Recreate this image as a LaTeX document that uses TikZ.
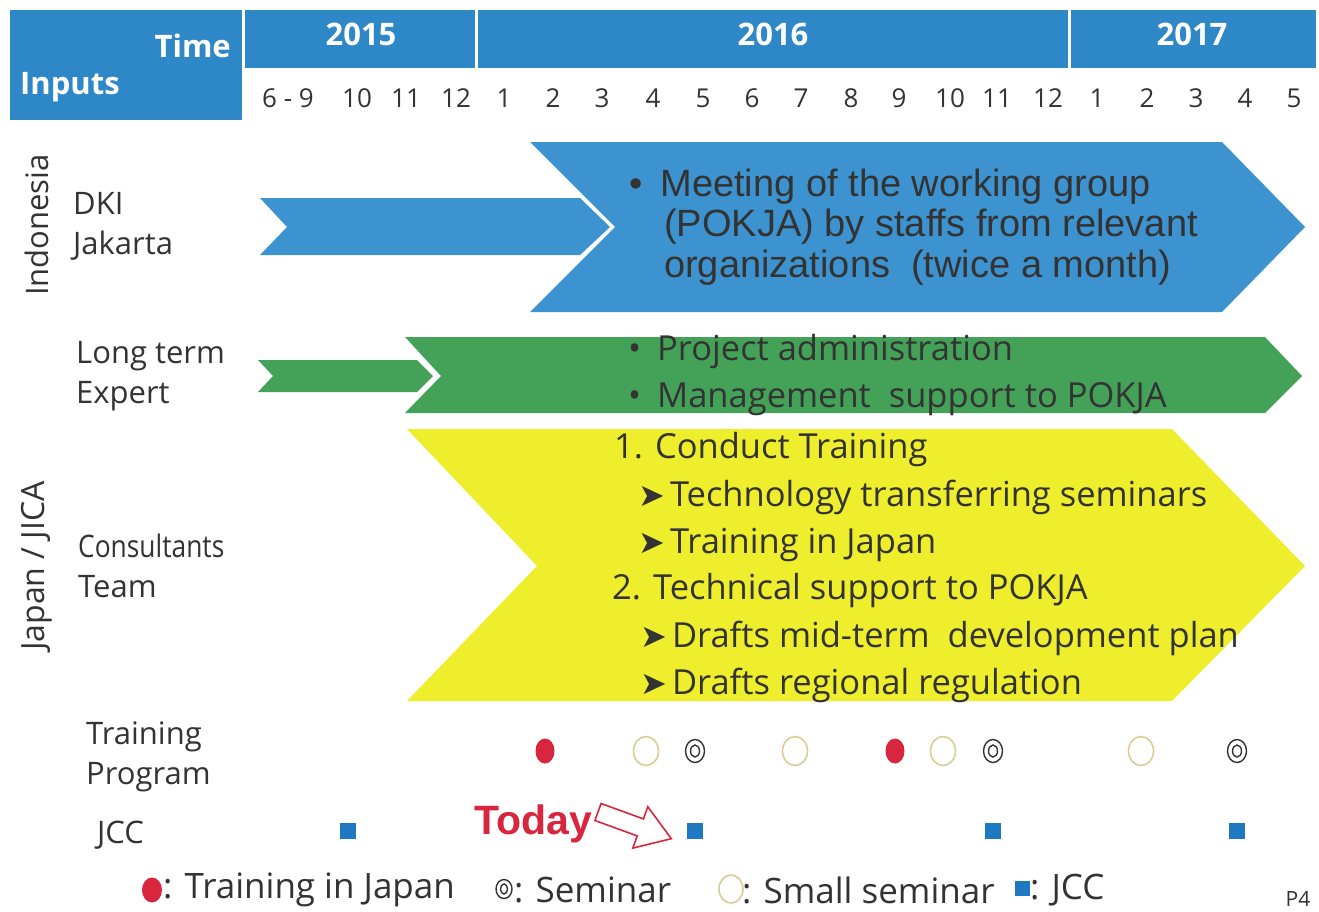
\documentclass[tikz,border=0pt]{standalone}
\usepackage{fontspec}
\usetikzlibrary{shapes.geometric}
\setmainfont{Open Sans}
\newfontfamily\djv{DejaVu Sans}
\newfontfamily\libsans{Liberation Sans}
\definecolor{hdr}{HTML}{2E87C7}
\definecolor{blueC}{HTML}{3D93CF}
\definecolor{greenC}{HTML}{43A258}
\definecolor{yellowC}{HTML}{EEEE2C}
\definecolor{txt}{HTML}{333333}
\definecolor{redC}{HTML}{D7263D}
\definecolor{beige}{HTML}{D9CC95}
\definecolor{jcc}{HTML}{1E78C2}
\begin{document}
\begin{tikzpicture}[x=1pt,y=-1pt,
  hdrtxt/.style={text=white,font=\bfseries\fontsize{31}{34}\selectfont,inner sep=0},
  month/.style={text=txt,font=\fontsize{26}{30}\selectfont,inner sep=0},
  lbl/.style={text=txt,font=\fontsize{31}{40}\selectfont,align=left,anchor=west,inner sep=0},
  body/.style={text=txt,font=\fontsize{34.5}{40}\selectfont,anchor=west,inner sep=0},
  bluebody/.style={text=txt,font=\libsans\fontsize{38}{40}\selectfont,anchor=west,inner sep=0},
  legtxt/.style={text=txt,font=\fontsize{35}{38}\selectfont,anchor=west,inner sep=0},
  redot/.style={ellipse,fill=redC,minimum width=19pt,minimum height=25pt,inner sep=0},
  small/.style={ellipse,draw=beige,line width=1.6pt,minimum width=25pt,minimum height=29pt,inner sep=0},
  semi/.style={ellipse,draw=txt,line width=1.4pt,minimum width=19pt,minimum height=23pt,inner sep=0},
  semiin/.style={ellipse,draw=txt,line width=1.4pt,minimum width=9pt,minimum height=12pt,inner sep=0},
  jccsq/.style={fill=jcc,minimum size=16pt,inner sep=0}]
\useasboundingbox (0,0) rectangle (1319,911);
\fill[white] (0,0) rectangle (1319,911);
% header
\fill[hdr] (10,10) rectangle (242,120);
\fill[hdr] (245,10) rectangle (475,68);
\fill[hdr] (478,10) rectangle (1068,68);
\fill[hdr] (1071,10) rectangle (1316,68);
\node[hdrtxt,anchor=east] (time) at (231,46) {Time};
\node[hdrtxt,anchor=west] (inputs) at (20,87) {Inputs};
\node[hdrtxt] (y15) at (361,34) {2015};
\node[hdrtxt] (y16) at (773,34) {2016};
\node[hdrtxt] (y17) at (1192,34) {2017};
\foreach \x/\m [count=\i] in {288/6 - 9,357/10,406/11,456/12,504/1,553/2,602/3,653/4,703/5,752/6,801/7,851/8,899/9,950/10,997/11,1048/12,1097/1,1147/2,1196/3,1245/4,1294/5}
  \node[month] (m\i) at (\x,98) {\m};
% left labels
\node[text=txt,font=\fontsize{31}{34}\selectfont,rotate=90,inner sep=0] (indo) at (37,225) {Indonesia};
\node[text=txt,font=\fontsize{32}{34}\selectfont,rotate=90,inner sep=0] (japan) at (37,566) {Japan / JICA};
\node[lbl] (dki) at (73,226) {DKI\\Jakarta};
\node[lbl] (lte) at (76,376) {Long term\\Expert};
\node[lbl] (cons) at (78,566) {\scalebox{0.85}[1]{Consultants}\\Team};
\node[lbl] (tp) at (86,757) {Training\\Program};
\node[lbl] (jccl) at (97,835) {JCC};
% chevrons
\fill[blueC] (260,198)--(580,198)--(610,227)--(580,255)--(260,255)--(287,227)--cycle;
\fill[blueC] (530,142)--(1222,142)--(1305,227)--(1222,312)--(530,312)--(615,227)--cycle;
\fill[greenC] (258,360)--(417,360)--(433,376)--(417,392)--(258,392)--(273,376)--cycle;
\fill[greenC] (405,337)--(1265,337)--(1302,376)--(1265,413)--(405,413)--(441,376)--cycle;
\fill[yellowC] (407,429)--(1172,429)--(1305,566)--(1172,701)--(407,701)--(537,566)--cycle;
% blue text
\node[bluebody] (b1) at (629,187) {\textbullet\hspace{18pt}Meeting of the working group};
\node[bluebody] (b2) at (664,227) {(POKJA) by staffs from relevant};
\node[bluebody] (b3) at (664,268) {organizations\ \ (twice a month)};
% green text
\node[body] (g1) at (628,352) {\textbullet\hspace{16pt}Project administration};
\node[body] (g2) at (628,399) {\textbullet\hspace{16pt}Management\ \ support to POKJA};
% yellow text
\node[body] (t1) at (614,450) {1. Conduct Training};
\node[body] (t2) at (638,497) {{\djv\fontsize{32}{34}\selectfont ➤}\hspace{5pt}Technology transferring seminars};
\node[body] (t3) at (638,545) {{\djv\fontsize{32}{34}\selectfont ➤}\hspace{5pt}Training in Japan};
\node[body] (t4) at (612,591) {2. Technical support to POKJA};
\node[body] (t5) at (640,638) {{\djv\fontsize{32}{34}\selectfont ➤}\hspace{5pt}Drafts mid-term\ \ development plan};
\node[body] (t6) at (640,685) {{\djv\fontsize{32}{34}\selectfont ➤}\hspace{5pt}Drafts regional regulation};
% training program markers
\node[redot] (r1) at (545,751) {};
\node[redot] (r2) at (895,751) {};
\node[small] (s1) at (646,751) {};
\node[small] (s2) at (795,751) {};
\node[small] (s3) at (943,751) {};
\node[small] (s4) at (1141,751) {};
\foreach \x [count=\i] in {695,993,1237}{
  \node[semi] (e\i) at (\x,751) {};
  \node[semiin] (ei\i) at (\x,751) {};
}
% JCC
\node[jccsq] (j1) at (348,831) {};
\node[jccsq] (j2) at (695,831) {};
\node[jccsq] (j3) at (993,831) {};
\node[jccsq] (j4) at (1237,831) {};
% today
\node[text=redC,font=\libsans\bfseries\fontsize{41}{44}\selectfont,anchor=west,inner sep=0] (today) at (474,824) {Today};
\draw[redC,line width=1.6pt,fill=white,line join=miter]
  (601.1,803.5)--(643.4,818.9)--(647.8,806.7)--(671.3,838.7)--(632.8,848.1)--(637.2,835.9)--(594.9,820.5)--cycle;
% legend
\node[redot,minimum width=20pt,minimum height=25pt] (lr) at (152,890) {};
\node[legtxt] (l1) at (163,890) {: Training in Japan};
\node[semi,minimum width=16pt,minimum height=19pt] (ls) at (504,889) {};
\node[semiin,minimum width=7pt,minimum height=10pt] (lsi) at (504,889) {};
\node[legtxt] (l2) at (514,890) {: Seminar};
\node[small,minimum width=24pt,minimum height=28pt] (lsm) at (731,889) {};
\node[legtxt] (l3) at (742,890) {: Small seminar};
\node[jccsq,minimum size=15pt] (lj) at (1022,888) {};
\node[legtxt] (l4) at (1030,890) {: JCC};
\node[text=txt,font=\fontsize{21}{24}\selectfont,inner sep=0] (p4) at (1298,899) {P4};
\end{tikzpicture}
\end{document}
